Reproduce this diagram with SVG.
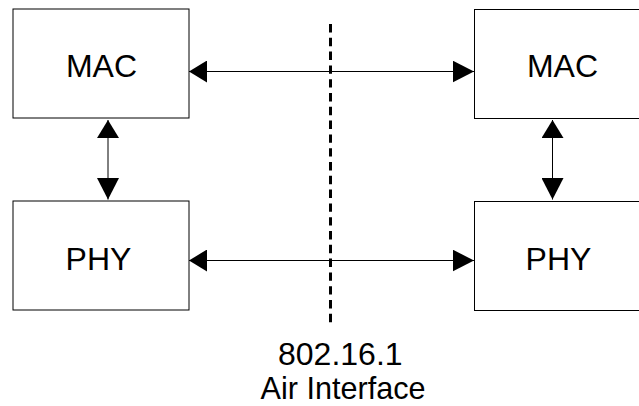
<svg xmlns="http://www.w3.org/2000/svg" width="639" height="406" viewBox="0 0 639 406">
<style>
.box{fill:#fff;stroke:#000;stroke-width:1}
.lbl{font-family:"Liberation Sans",Arial,sans-serif;font-size:32px;fill:#000;text-anchor:middle}
.conn{stroke:#000;stroke-width:1;fill:none}
.air{stroke:#000;stroke-width:3;stroke-dasharray:8.4 5.4;fill:none}
.cap{font-family:"Liberation Sans",Arial,sans-serif;font-size:32px;fill:#000}
</style>
<defs>
<marker id="aStart" markerUnits="userSpaceOnUse" markerWidth="18" markerHeight="22" refX="18" refY="11" orient="auto-start-reverse">
<path d="M0,0 L18,11 L0,22 z" fill="#000"/>
</marker>
<marker id="aEnd" markerUnits="userSpaceOnUse" markerWidth="21.5" markerHeight="22" refX="21.5" refY="11" orient="auto">
<path d="M0,0 L21.5,11 L0,22 z" fill="#000"/>
</marker>
</defs>
<rect width="639" height="406" fill="#fff"/>
<g id="mac-left">
<rect class="box" x="13" y="9" width="176" height="109"/>
<text class="lbl" x="101.5" y="76.5">MAC</text>
</g>
<g id="phy-left">
<rect class="box" x="13" y="201" width="176" height="109"/>
<text class="lbl" x="98.5" y="269.5">PHY</text>
</g>
<g id="mac-right">
<rect class="box" x="474.5" y="9.5" width="176" height="109"/>
<text class="lbl" x="562.5" y="76.5">MAC</text>
</g>
<g id="phy-right">
<rect class="box" x="474.5" y="201.5" width="176" height="109"/>
<text class="lbl" x="558.5" y="269.5">PHY</text>
</g>
<g id="air-interface">
<line class="air" x1="330.5" y1="24" x2="330.5" y2="324"/>
<text class="cap" x="278" y="364.5">802.16.1</text>
<text class="cap" x="260.5" y="398.5" textLength="165" lengthAdjust="spacingAndGlyphs">Air Interface</text>
</g>
<g id="connectors">
<line class="conn" x1="189" y1="71.5" x2="474" y2="71.5" marker-start="url(#aStart)" marker-end="url(#aEnd)"/>
<line class="conn" x1="189" y1="260.5" x2="474" y2="260.5" marker-start="url(#aStart)" marker-end="url(#aEnd)"/>
<line class="conn" x1="108" y1="120" x2="108" y2="199.5" marker-start="url(#aStart)" marker-end="url(#aEnd)"/>
<line class="conn" x1="552.5" y1="120" x2="552.5" y2="199.5" marker-start="url(#aStart)" marker-end="url(#aEnd)"/>
</g>
</svg>
